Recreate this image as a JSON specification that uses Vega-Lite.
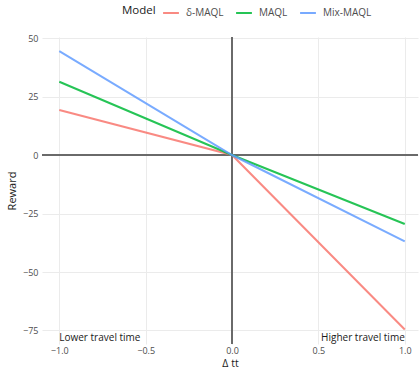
{
  "$schema": "https://vega.github.io/schema/vega-lite/v6.json",
  "width": 376,
  "height": 307,
  "autosize": {"type": "none"},
  "padding": {"left": 42, "top": 37, "right": 1, "bottom": 27},
  "background": "white",
  "config": {
    "font": "Open Sans",
    "view": {"stroke": null},
    "axis": {
      "domain": false,
      "ticks": false,
      "grid": true,
      "gridColor": "#EBEBEB",
      "gridWidth": 1,
      "labelColor": "#4D4D4D",
      "labelFontSize": 9,
      "titleFontSize": 11,
      "titleFontWeight": "normal",
      "titleColor": "#1A1A1A"
    }
  },
  "datasets": {
    "lines": [
      {"dtt": -1, "reward": 19.2, "model": "δ-MAQL"},
      {"dtt": 0, "reward": 0, "model": "δ-MAQL"},
      {"dtt": 1, "reward": -74.6, "model": "δ-MAQL"},
      {"dtt": -1, "reward": 31.3, "model": "MAQL"},
      {"dtt": 0, "reward": 0, "model": "MAQL"},
      {"dtt": 1, "reward": -29.5, "model": "MAQL"},
      {"dtt": -1, "reward": 44.4, "model": "Mix-MAQL"},
      {"dtt": 0, "reward": 0, "model": "Mix-MAQL"},
      {"dtt": 1, "reward": -36.9, "model": "Mix-MAQL"}
    ],
    "notes": [
      {"dtt": -1, "reward": -78.3, "label": "Lower travel time", "side": "left"},
      {"dtt": 1, "reward": -78.3, "label": "Higher travel time", "side": "right"}
    ]
  },
  "layer": [
    {
      "data": {"name": "lines"},
      "mark": {"type": "line", "strokeWidth": 2, "opacity": 0},
      "encoding": {
        "x": {
          "field": "dtt", "type": "quantitative",
          "scale": {"domain": [-1.1, 1.0766], "nice": false, "zero": false},
          "axis": {"values": [-1, -0.5, 0, 0.5, 1], "format": ".1f", "title": "Δ tt", "labelPadding": 2, "titlePadding": 3, "titleFontSize": 10.5, "grid": true}
        },
        "y": {
          "field": "reward", "type": "quantitative",
          "scale": {"domain": [-80.77, 50.43], "nice": false, "zero": false},
          "axis": {"values": [50, 25, 0, -25, -50, -75], "title": "Reward", "labelPadding": 4, "titlePadding": 5, "grid": true}
        },
        "detail": {"field": "model"}
      }
    },
    {
      "data": {"name": "lines"},
      "mark": {"type": "rule", "color": "#6B6B6B", "strokeWidth": 1},
      "encoding": {"y": {"datum": 0}}
    },
    {
      "data": {"name": "lines"},
      "mark": {"type": "rule", "color": "#6B6B6B", "strokeWidth": 1},
      "encoding": {"x": {"datum": 0}}
    },
    {
      "data": {"name": "lines"},
      "mark": {"type": "line", "strokeWidth": 2, "opacity": 0.85},
      "encoding": {
        "x": {"field": "dtt", "type": "quantitative"},
        "y": {"field": "reward", "type": "quantitative"},
        "color": {
          "field": "model", "type": "nominal",
          "scale": {"domain": ["δ-MAQL", "MAQL", "Mix-MAQL"], "range": ["#F8766D", "#00BA38", "#619CFF"]},
          "legend": {
            "title": "Model",
            "orient": "none",
            "direction": "horizontal",
            "legendX": 80,
            "legendY": -33,
            "titleOrient": "left",
            "titleFontSize": 11.5,
            "titleFontWeight": "normal",
            "titleColor": "#1A1A1A",
            "titlePadding": 6,
            "labelFontSize": 10,
            "labelColor": "#4D4D4D",
            "symbolType": "stroke",
            "symbolStrokeWidth": 2,
            "symbolSize": 250,
            "symbolOpacity": 0.85,
            "columnPadding": 8,
            "labelOffset": 6
          }
        }
      }
    },
    {
      "data": {"name": "notes"},
      "transform": [{"filter": "datum.side === 'left'"}],
      "mark": {"type": "text", "align": "left", "baseline": "middle", "fontSize": 10, "color": "#1A1A1A"},
      "encoding": {
        "x": {"field": "dtt", "type": "quantitative"},
        "y": {"field": "reward", "type": "quantitative"},
        "text": {"field": "label"}
      }
    },
    {
      "data": {"name": "notes"},
      "transform": [{"filter": "datum.side === 'right'"}],
      "mark": {"type": "text", "align": "right", "baseline": "middle", "fontSize": 10, "color": "#1A1A1A"},
      "encoding": {
        "x": {"field": "dtt", "type": "quantitative"},
        "y": {"field": "reward", "type": "quantitative"},
        "text": {"field": "label"}
      }
    }
  ]
}
